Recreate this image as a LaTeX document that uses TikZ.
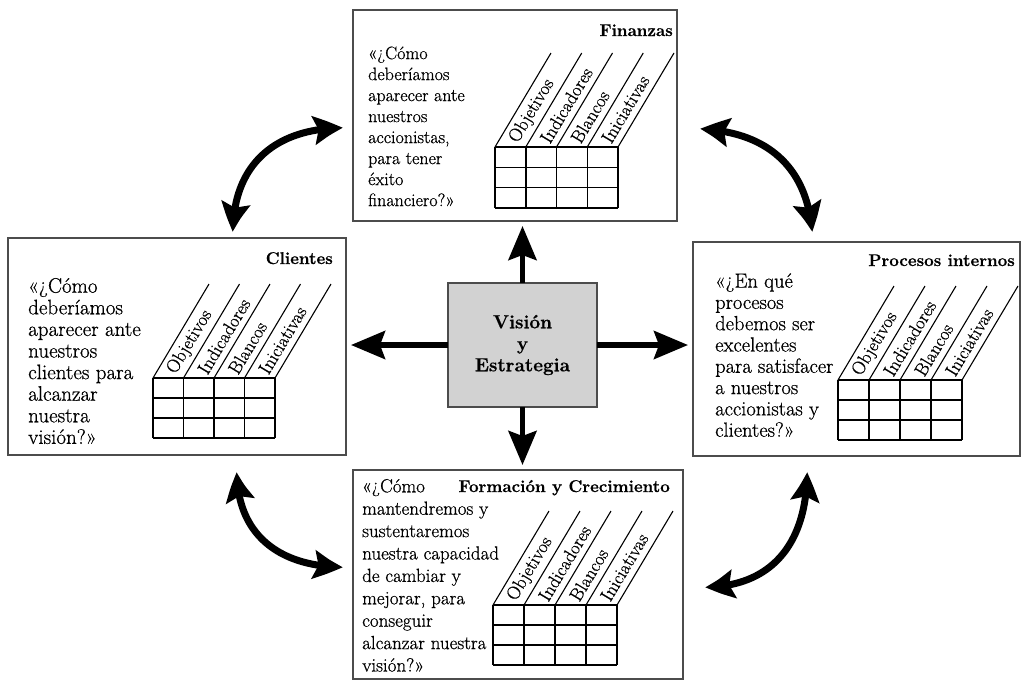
\documentclass[tikz,border=0pt]{standalone}
\usepackage{fontspec}
\newfontfamily\qfont{Latin Modern Roman}[FakeBold=0.7]
\usetikzlibrary{arrows.meta,bending}
\newcommand\bsctab[5]{%
  \foreach \k in {0,...,4}{
    \draw[gridl] ({#2+\k*#4},#3) -- ++(0,{3*#5});
    \draw[slant] ({#2+\k*#4},#3) -- ++(56,-94);
  }
  \foreach \k in {0,...,3}{
    \draw[gridl] (#2,{#3+\k*#5}) -- ++({4*#4},0);
  }
  \foreach \k/\t in {0/Objetivos,1/Indicadores,2/Blancos,3/Iniciativas}{
    \node[lab] (#1-\k) at ({#2+(\k+0.5)*#4+3.1},{#3-5.1}) {\t};
  }
}
\begin{document}
\begin{tikzpicture}[x=1pt,y=-1pt,
  panel/.style={draw=black!70, line width=1.3pt, inner sep=0pt, outer sep=0pt},
  body/.style 2 args={anchor=north west, align=left, inner sep=0pt, font=\qfont\fontsize{#1}{#2}\selectfont},
  ttl/.style={anchor=base east, inner sep=0pt, font=\qfont\fontsize{17}{17}\selectfont\bfseries},
  lab/.style={rotate=59, anchor=west, inner sep=0.5pt, font=\qfont\fontsize{18.5}{18.5}\selectfont},
  gridl/.style={line width=1.5pt, black},
  slant/.style={line width=1.1pt, black},
  bigarrow/.style={line width=5.5pt, -{Stealth[length=34pt,width=28pt,inset=5pt]}, shorten >=5pt},
  curv/.style={line width=7pt, {Stealth[length=30pt,width=28pt,inset=5pt,bend]}-{Stealth[length=30pt,width=28pt,inset=5pt,bend]}}
]
\useasboundingbox (0,0) rectangle (1025,681);

% panels
\node[panel, minimum width=324pt, minimum height=211pt] (fin) at (515,115.5) {};
\node[panel, minimum width=338pt, minimum height=217pt] (cli) at (177,346.5) {};
\node[panel, minimum width=327pt, minimum height=214pt] (pro) at (856.5,349) {};
\node[panel, minimum width=330pt, minimum height=209pt] (for) at (518,574.5) {};
\node[panel, fill=gray!35, minimum width=149pt, minimum height=124pt, align=center,
      font=\qfont\fontsize{19}{21.5}\selectfont\bfseries] (vis) at (522.5,345) {Visión\\y\\Estrategia};

% titles
\node[ttl] (fin-t) at (673,36) {Finanzas};
\node[ttl] (cli-t) at (333,264) {Clientes};
\node[ttl] (pro-t) at (1015,266) {Procesos internos};
\node[ttl] (for-t) at (670,492) {Formación y Crecimiento};

% questions
\node[body={18}{21}] (fin-q) at (368,38.9) {\rule{0pt}{20pt}«¿Cómo\\deberíamos\\aparecer ante\\nuestros\\accionistas,\\para tener\\éxito\\financiero?»};
\node[body={21}{21.6}] (cli-q) at (28,272.5) {\rule{0pt}{20pt}«¿Cómo\\deberíamos\\aparecer ante\\nuestros\\clientes para\\alcanzar\\nuestra\\visión?»};
\node[body={20.5}{21.3}] (pro-q) at (715,267.4) {\rule{0pt}{20pt}«¿En qué\\procesos\\debemos ser\\excelentes\\para satisfacer\\a nuestros\\accionistas y\\clientes?»};
\node[body={19}{22.4}] (for-q) at (362,472.1) {\rule{0pt}{20pt}«¿Cómo\\mantendremos y\\sustentaremos\\nuestra capacidad\\de cambiar y\\mejorar, para\\conseguir\\alcanzar nuestra\\visión?»};

% tables
\bsctab{fin}{495}{147}{30.75}{20.3}
\bsctab{cli}{153}{378}{30.5}{20}
\bsctab{pro}{838}{380}{31}{20}
\bsctab{for}{493}{605}{31}{20}

% straight arrows
\draw[bigarrow] (vis.north) -- (vis.north |- fin.south);
\draw[bigarrow] (vis.south) -- (vis.south |- for.north);
\draw[bigarrow] (vis.west) -- (vis.west -| cli.east);
\draw[bigarrow] (vis.east) -- (vis.east -| pro.west);

% curved arrows
\coordinate (a1) at (343,128); \coordinate (a2) at (233,232);
\coordinate (b1) at (700,129); \coordinate (b2) at (812,232);
\coordinate (c1) at (237,472); \coordinate (c2) at (343,567);
\coordinate (d1) at (807,472); \coordinate (d2) at (705,587);
\draw[curv] (a2) .. controls (233,165) and (275,128) .. (a1);
\draw[curv] (b1) .. controls (775,132) and (808,175) .. (b2);
\draw[curv] (c1) .. controls (237,535) and (280,567) .. (c2);
\draw[curv] (d1) .. controls (807,545) and (770,587) .. (d2);
\end{tikzpicture}
\end{document}
